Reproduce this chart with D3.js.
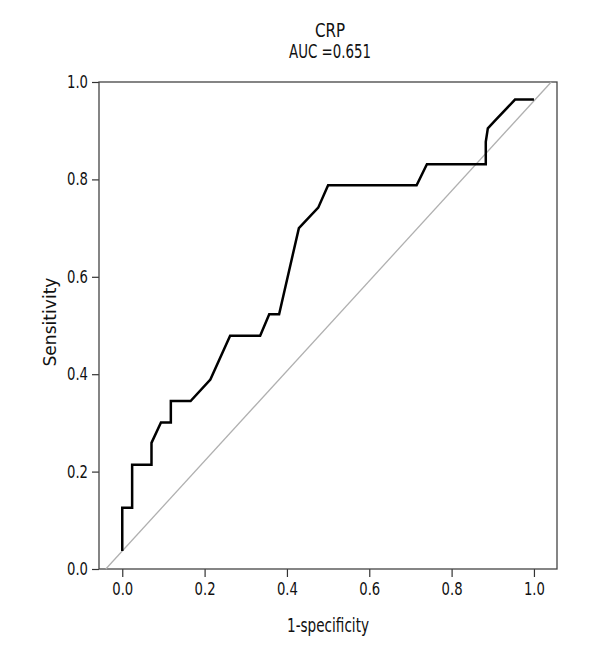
<!DOCTYPE html>
<html>
<head>
<meta charset="utf-8">
<script src="https://cdn.jsdelivr.net/npm/d3@7"></script>
<style>
  body { margin: 0; background: #fff; }
  text { font-family: "DejaVu Sans", sans-serif; fill: #111; }
</style>
</head>
<body>
<div id="chart"></div>
<script>
// ROC curve points (1-specificity, sensitivity)
const fpr = [0, 0, 0.024, 0.024, 0.071, 0.071, 0.094, 0.118, 0.118, 0.166, 0.214, 0.262, 0.335, 0.357, 0.381, 0.429, 0.476, 0.500, 0.715, 0.740, 0.883, 0.883, 0.888, 0.906, 0.954, 1.0];
const tpr = [0.037, 0.126, 0.126, 0.214, 0.214, 0.259, 0.301, 0.301, 0.345, 0.345, 0.389, 0.479, 0.479, 0.523, 0.523, 0.700, 0.742, 0.788, 0.788, 0.831, 0.831, 0.877, 0.905, 0.921, 0.964, 0.964];

// reference diagonal
const diagX = [-0.04, 1.042];
const diagY = [0, 1];

const xTicks = [0, 0.2, 0.4, 0.6, 0.8, 1.0];
const yTicks = [0, 0.2, 0.4, 0.6, 0.8, 1.0];
const titleLines = ["CRP", "AUC =0.651"];

// Dimensions
const margin = { top: 82, right: 43, bottom: 91, left: 99 };
const width = 600 - margin.left - margin.right;
const height = 660 - margin.top - margin.bottom;

const svg = d3.select("#chart")
    .append("svg")
    .attr("width", 600)
    .attr("height", 660);

const g = svg.append("g")
    .attr("transform", "translate(" + margin.left + "," + margin.top + ")");

// Scales
const x = d3.scaleLinear().domain([-0.0565, 1.056]).range([0, width]);
const y = d3.scaleLinear().domain([0, 1]).range([height, 0]);

// Axes
const xAxis = g.append("g")
    .attr("transform", "translate(0," + height + ")")
    .call(d3.axisBottom(x).tickValues(xTicks).tickFormat(d3.format(".1f")).tickSize(8).tickPadding(6));
const yAxis = g.append("g")
    .call(d3.axisLeft(y).tickValues(yTicks).tickFormat(d3.format(".1f")).tickSize(7).tickPadding(4));

// narrow glyphs like the condensed font of the original
[xAxis, yAxis].forEach(a => {
    a.select(".domain").remove();
    a.selectAll(".tick line").attr("stroke", "#333").attr("stroke-width", 1.2);
    a.selectAll(".tick text")
        .style("font-size", "17px")
        .attr("fill", "#111")
        .attr("textLength", 21)
        .attr("lengthAdjust", "spacingAndGlyphs");
});

// Frame
g.append("rect")
    .attr("x", 0)
    .attr("y", 0)
    .attr("width", width)
    .attr("height", height)
    .attr("fill", "none")
    .attr("stroke", "#444")
    .attr("stroke-width", 1.3);

// Diagonal reference line
g.append("line")
    .attr("x1", x(diagX[0]))
    .attr("y1", y(diagY[0]))
    .attr("x2", x(diagX[1]))
    .attr("y2", y(diagY[1]))
    .attr("stroke", "#b0b0b0")
    .attr("stroke-width", 1.3);

// ROC curve
const pts = fpr.map((d, i) => [d, tpr[i]]);
const line = d3.line()
    .x(d => x(d[0]))
    .y(d => y(d[1]));

g.append("path")
    .datum(pts)
    .attr("d", line)
    .attr("fill", "none")
    .attr("stroke", "#000")
    .attr("stroke-width", 2.5)
    .attr("stroke-linejoin", "miter");

// Title
const titleLens = [30, 82];
titleLines.forEach((t, i) => {
    svg.append("text")
        .attr("x", 330)
        .attr("y", 37 + i * 21)
        .attr("text-anchor", "middle")
        .style("font-size", "19px")
        .attr("textLength", titleLens[i])
        .attr("lengthAdjust", "spacingAndGlyphs")
        .text(t);
});

// Axis labels
svg.append("text")
    .attr("x", 328)
    .attr("y", 632)
    .attr("text-anchor", "middle")
    .style("font-size", "19.5px")
    .attr("textLength", 82)
    .attr("lengthAdjust", "spacingAndGlyphs")
    .text("1-specificity");

svg.append("text")
    .attr("transform", "translate(56,322) rotate(-90)")
    .attr("text-anchor", "middle")
    .style("font-size", "17px")
    .attr("textLength", 89)
    .attr("lengthAdjust", "spacingAndGlyphs")
    .text("Sensitivity");
</script>
</body>
</html>
